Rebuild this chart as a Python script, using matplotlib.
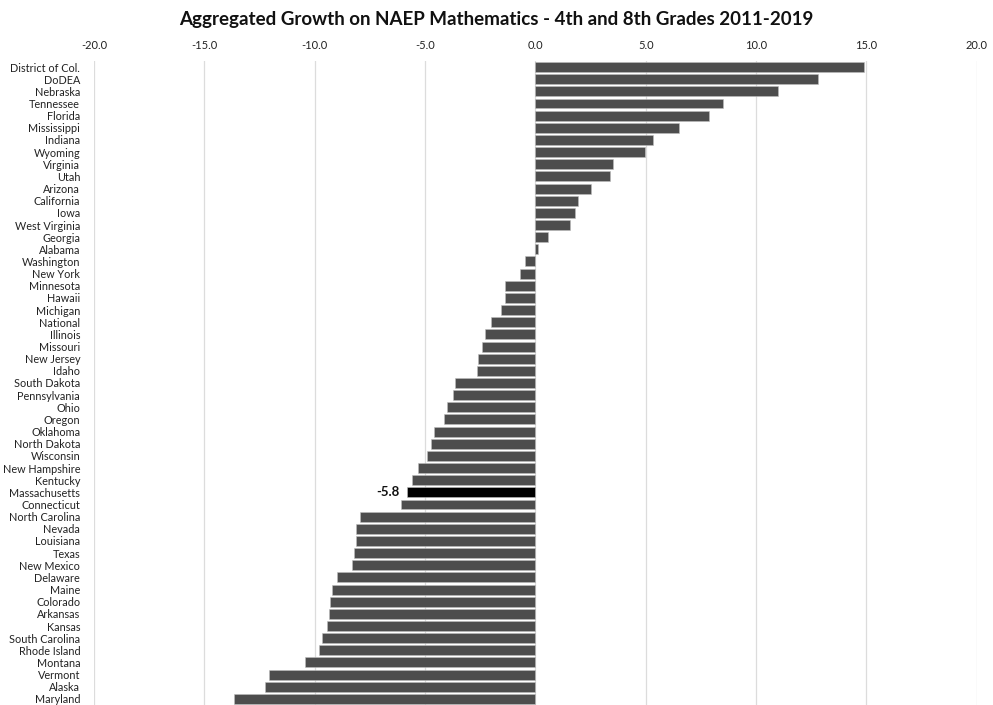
import matplotlib
matplotlib.use("Agg")
import matplotlib.pyplot as plt

states = ["District of Col.", "DoDEA", "Nebraska", "Tennessee", "Florida", "Mississippi",
          "Indiana", "Wyoming", "Virginia", "Utah", "Arizona", "California", "Iowa",
          "West Virginia", "Georgia", "Alabama", "Washington", "New York", "Minnesota",
          "Hawaii", "Michigan", "National", "Illinois", "Missouri", "New Jersey", "Idaho",
          "South Dakota", "Pennsylvania", "Ohio", "Oregon", "Oklahoma", "North Dakota",
          "Wisconsin", "New Hampshire", "Kentucky", "Massachusetts", "Connecticut",
          "North Carolina", "Nevada", "Louisiana", "Texas", "New Mexico", "Delaware",
          "Maine", "Colorado", "Arkansas", "Kansas", "South Carolina", "Rhode Island",
          "Montana", "Vermont", "Alaska", "Maryland"]
growth = [14.9, 12.8, 11.0, 8.5, 7.85, 6.5, 5.35, 4.95, 3.5, 3.4, 2.5, 1.95, 1.8,
          1.55, 0.55, 0.1, -0.45, -0.7, -1.4, -1.4, -1.55, -2.0, -2.3, -2.4, -2.6, -2.65,
          -3.65, -3.75, -4.0, -4.15, -4.6, -4.75, -4.9, -5.3, -5.6, -5.8, -6.1,
          -7.95, -8.15, -8.15, -8.2, -8.3, -9.0, -9.2, -9.3, -9.35, -9.45, -9.65, -9.8,
          -10.45, -12.05, -12.25, -13.65]
highlight = "Massachusetts"
xticks = [-20, -15, -10, -5, 0, 5, 10, 15, 20]

plt.rcParams['font.family'] = ['Lato', 'DejaVu Sans']

fig = plt.figure(figsize=(9.93, 7.05), dpi=100)
ax = fig.add_axes([0.0947, 0.0, 0.889, 0.9135])

colors = ["#000000" if s == highlight else "#4d4d4d" for s in states]
ypos = list(range(len(states)))
ax.barh(ypos, growth, height=0.82, color=colors, edgecolor="#bdbdbd", linewidth=0.4, zorder=3)

# label for the highlighted bar
i = states.index(highlight)
ax.text(growth[i] - 0.35, i, f"{growth[i]:.1f}", ha="right", va="center",
        fontsize=9.5, fontweight="bold", color="#111111")

ax.set_xlim(-20, 20)
ax.set_ylim(len(states) - 0.5, -0.5)
ax.set_xticks(xticks)
ax.set_xticklabels([f"{t:.1f}" for t in xticks], fontsize=8, color="#222222")
ax.xaxis.tick_top()
ax.tick_params(axis="x", length=0, pad=7)
ax.set_yticks(ypos)
ax.set_yticklabels(states, fontsize=7.8, color="#222222")
ax.tick_params(axis="y", length=0, pad=10)
ax.grid(axis="x", color="#dcdcdc", linewidth=0.9, zorder=0)
for sp in ax.spines.values():
    sp.set_visible(False)

fig.text(0.5, 0.973, "Aggregated Growth on NAEP Mathematics - 4th and 8th Grades 2011-2019",
         ha="center", va="center", fontsize=13.5, fontweight="bold", color="#111111")

fig.savefig("out.png", dpi=100)
